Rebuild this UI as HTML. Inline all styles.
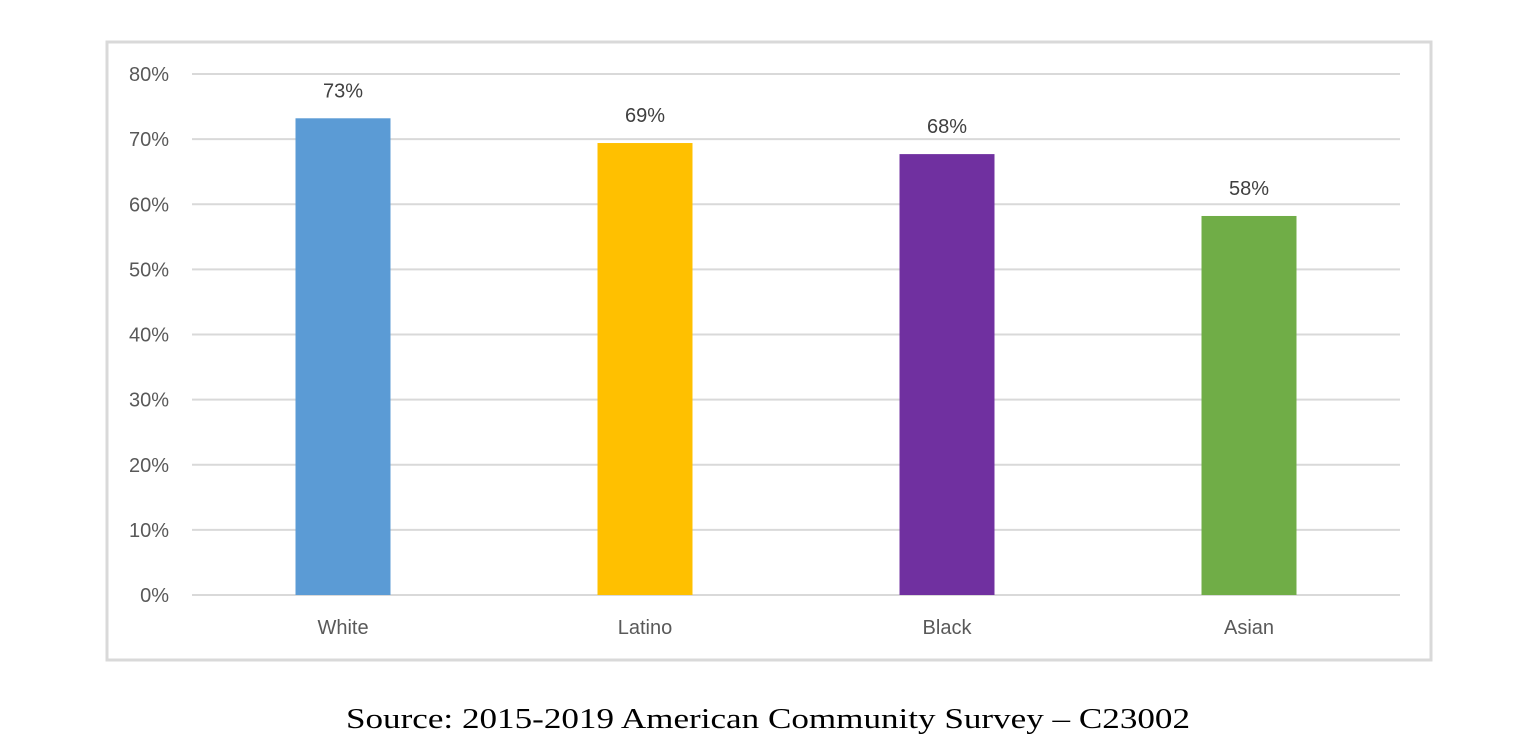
<!DOCTYPE html>
<html><head><meta charset="utf-8"><style>
html,body{margin:0;padding:0;background:#fff;width:1530px;height:752px;overflow:hidden}
svg{display:block}
</style></head><body>
<svg id="chart" width="1530" height="752">
<rect x="107" y="42" width="1324" height="618" fill="#fff" stroke="#d9d9d9" stroke-width="3"/>
<g id="grid"></g><g id="bars"></g><g id="labels"></g>
<text x="346" y="728" textLength="844" lengthAdjust="spacingAndGlyphs" font-family="'Liberation Serif',serif" font-size="29" fill="#000">Source: 2015-2019 American Community Survey – C23002</text>
</svg>
<script>
const categories = ["White","Latino","Black","Asian"];
const values = [73.2,69.4,67.7,58.2];
const valueLabels = ["73%","69%","68%","58%"];
const colors = ["#5b9bd5","#ffc000","#7030a0","#70ad47"];
const ticks = [0,10,20,30,40,50,60,70,80];
const NS="http://www.w3.org/2000/svg";
const x0=192,x1=1400,yBase=595,yTop=74,yMax=80;
const y=v=>yBase-(v/yMax)*(yBase-yTop);
const band=(x1-x0)/categories.length;
const xc=i=>x0+band*(i+0.5);
const bw=95;
function mk(tag,attrs,parent){const e=document.createElementNS(NS,tag);for(const k in attrs)e.setAttribute(k,attrs[k]);document.getElementById(parent).appendChild(e);return e;}
const font="'Liberation Sans',Arial,sans-serif";
ticks.forEach(t=>{
  const l=mk("line",{x1:x0,x2:x1,y1:y(t),y2:y(t),stroke:"#d9d9d9","stroke-width":2},"grid");
  
  
  const tx=mk("text",{x:169,y:y(t)+7,"text-anchor":"end","font-family":font,"font-size":20,fill:"#595959"},"labels");
  tx.textContent=t+"%";
  
  
});
categories.forEach((c,i)=>{
  const r=mk("rect",{x:xc(i)-bw/2,y:y(values[i]),width:bw,height:yBase-y(values[i]),fill:colors[i]},"bars");
  
  
  const v=mk("text",{x:xc(i),y:y(values[i])-21,"text-anchor":"middle","font-family":font,"font-size":20,fill:"#404040"},"labels");
  v.textContent=valueLabels[i];
  
  
  const cl=mk("text",{x:xc(i),y:634,"text-anchor":"middle","font-family":font,"font-size":20,fill:"#595959"},"labels");
  cl.textContent=c;
  
  
});
</script>
</body></html>
